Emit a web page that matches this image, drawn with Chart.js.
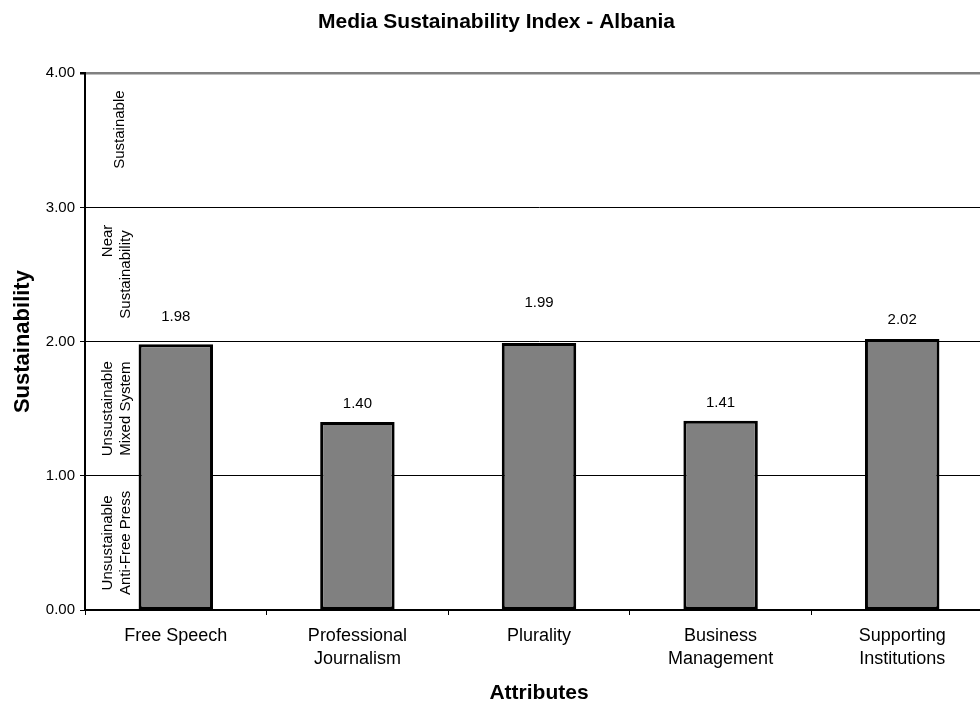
<!DOCTYPE html>
<html>
<head>
<meta charset="utf-8">
<script src="https://cdn.jsdelivr.net/npm/chart.js@4/dist/chart.umd.min.js"></script>
<style>
  html, body { margin: 0; padding: 0; background: #fff; }
  #wrap { width: 980px; height: 706px; overflow: hidden; position: relative; }
  #chart { display: block; }
</style>
</head>
<body>
<div id="wrap"><canvas id="chart" width="1020" height="706"></canvas></div>
<script>
// ---- data ----
const categories = [
    ['Free Speech'],
    ['Professional', 'Journalism'],
    ['Plurality'],
    ['Business', 'Management'],
    ['Supporting', 'Institutions']
];
const scores = [1.98, 1.40, 1.99, 1.41, 2.02];
const yTicks = [0, 1, 2, 3, 4];

// rotated band captions inside the plot, one entry per line, with the y value it sits at
const bandLines = ['Sustainable', 'Near', 'Sustainability', 'Unsustainable', 'Mixed System', 'Unsustainable', 'Anti-Free Press'];
const bandValues = [3.58, 2.75, 2.5, 1.5, 1.5, 0.5, 0.5];

const FONT = "'Liberation Sans', Arial, sans-serif";

// ---- plugins ----
const valueLabels = {
    id: 'valueLabels',
    afterDatasetsDraw(chart, args, opts) {
        const { ctx } = chart;
        const meta = chart.getDatasetMeta(0);
        ctx.save();
        ctx.font = `15px ${FONT}`;
        ctx.fillStyle = '#000';
        ctx.textAlign = 'center';
        ctx.textBaseline = 'alphabetic';
        meta.data.forEach((bar, i) => {
            const lift = opts.lift[i] || 14;
            ctx.fillText(scores[i].toFixed(2), bar.x, bar.y - lift);
        });
        ctx.restore();
    }
};

const bandCaptions = {
    id: 'bandCaptions',
    afterDraw(chart, args, opts) {
        const { ctx } = chart;
        const y = chart.scales.y;
        ctx.save();
        ctx.font = `15px ${FONT}`;
        ctx.fillStyle = '#000';
        ctx.textAlign = 'center';
        ctx.textBaseline = 'middle';
        bandLines.forEach((txt, i) => {
            const px = y.getPixelForValue(bandValues[i]);
            ctx.save();
            ctx.translate(opts.columns[i], px);
            ctx.rotate(-Math.PI / 2);
            ctx.fillText(txt, 0, 0);
            ctx.restore();
        });
        ctx.restore();
    }
};

// ---- chart ----
Chart.defaults.font.family = FONT;
Chart.defaults.color = '#000';

new Chart(document.getElementById('chart'), {
    type: 'bar',
    data: {
        labels: categories,
        datasets: [{
            data: scores,
            backgroundColor: '#808080',
            borderColor: '#000',
            borderWidth: 3,
            borderSkipped: false,
            barPercentage: 0.41,
            categoryPercentage: 1.0
        }]
    },
    options: {
        responsive: false,
        devicePixelRatio: 1,
        animation: false,
        layout: { padding: { left: 0, right: 27, top: 0, bottom: 0 } },
        plugins: {
            legend: { display: false },
            tooltip: { enabled: false },
            title: {
                display: true,
                text: 'Media Sustainability Index - Albania',
                font: { size: 21, weight: 'bold' },
                color: '#000',
                padding: { top: 10, bottom: 38 }
            },
            valueLabels: { lift: [23, 14, 36, 14, 15] },
            bandCaptions: { columns: [120, 108, 126, 108, 126, 108, 126] }
        },
        scales: {
            x: {
                offset: true,
                grid: { display: true, drawOnChartArea: false, offset: true, tickLength: 5, tickColor: '#000' },
                border: { display: true, color: '#000', width: 2 },
                ticks: { font: { size: 18, lineHeight: 1.3 }, padding: 9, maxRotation: 0, autoSkip: false },
                title: { display: true, text: 'Attributes', font: { size: 21, weight: 'bold' }, padding: { bottom: 0 } },
                afterFit(scale) { scale.height = 96; }
            },
            y: {
                min: 0,
                max: 4,
                afterBuildTicks(scale) { scale.ticks = yTicks.map(v => ({ value: v })); },
                grid: {
                    color: c => c.tick && c.tick.value === 4 ? '#808080' : '#000',
                    lineWidth: c => c.tick && c.tick.value === 4 ? 2.5 : 1,
                    tickColor: '#000',
                    tickLength: 5
                },
                border: { display: true, color: '#000', width: 2 },
                ticks: { font: { size: 15 }, padding: 5, callback: v => v.toFixed(2) },
                title: { display: true, text: 'Sustainability', font: { size: 22, weight: 'bold' }, padding: { top: 10 } },
                afterFit(scale) { scale.width = 85; }
            }
        }
    },
    plugins: [valueLabels, bandCaptions]
});
</script>
</body>
</html>
